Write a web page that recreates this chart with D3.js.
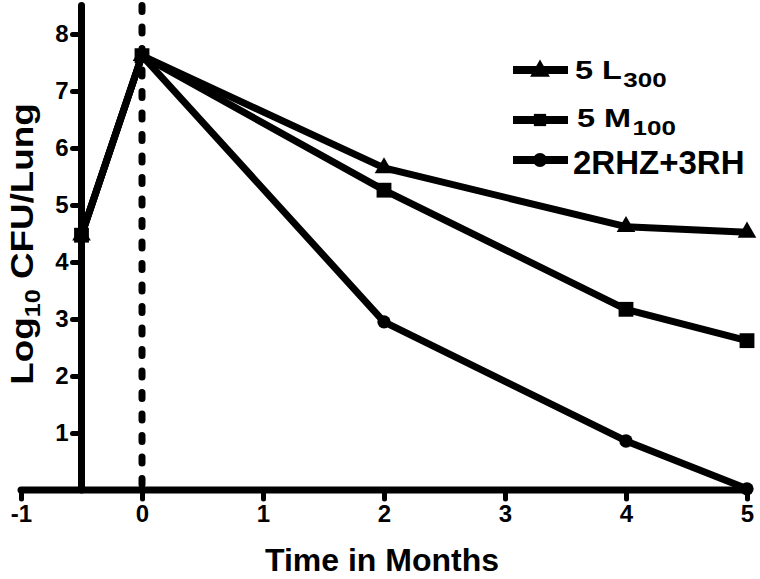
<!DOCTYPE html>
<html lang="en">
	<head>
		<meta charset="utf-8">
		<title>Log10 CFU/Lung over time</title>
		<script src="https://d3js.org/d3.v7.min.js"></script>
		<style type="text/css">
			body { margin: 0; background: #fff; }
			svg { display: block; }
			text {
				font-family: "Liberation Sans", Arial, sans-serif;
				font-weight: bold;
				fill: #000;
			}
		</style>
	</head>
	<body>
		<script type="text/javascript">

			//Data
			var months = [-0.5, 0, 2, 4, 5];
			var l300 = [4.47, 7.62, 5.65, 4.62, 4.52];
			var m100 = [4.47, 7.62, 5.26, 3.17, 2.62];
			var rhz = [4.47, 7.62, 2.95, 0.86, 0.02];
			var xTicks = [-1, 0, 1, 2, 3, 4, 5];
			var yTicks = [1, 2, 3, 4, 5, 6, 7, 8];

			var series = [
				{ name: "2RHZ+3RH", values: rhz, symbol: "circle" },
				{ name: "5 L", sub: "300", values: l300, symbol: "triangle" },
				{ name: "5 M", sub: "100", values: m100, symbol: "square" }
			];

			var w = 760;
			var h = 579;

			var x = d3.scaleLinear().domain([-1, 5]).range([21, 747]);
			var y = d3.scaleLinear().domain([0, 8.5]).range([490, 5.5]);

			//plain hyphen for negatives, like the original
			var fmt = function(d) { return String(d); };

			var svg = d3.select("body")
						.append("svg")
						.attr("width", w)
						.attr("height", h);

			//Dashed line at month 0
			svg.append("line")
				.attr("x1", x(0)).attr("x2", x(0))
				.attr("y1", y(8.5)).attr("y2", y(0))
				.attr("stroke", "#000")
				.attr("stroke-width", 7)
				.attr("stroke-linecap", "round")
				.attr("stroke-dasharray", "6,15.5");

			//X axis
			var xAxis = svg.append("g")
				.attr("transform", "translate(0," + y(0) + ")")
				.call(d3.axisBottom(x).tickValues(xTicks).tickSize(9).tickPadding(6).tickFormat(fmt));

			//Y axis crosses at month -0.5
			var yAxis = svg.append("g")
				.attr("transform", "translate(" + x(-0.5) + ",0)")
				.call(d3.axisLeft(y).tickValues(yTicks).tickSize(9).tickPadding(4).tickFormat(fmt));

			[xAxis, yAxis].forEach(function(a) {
				a.select(".domain").remove();
				a.selectAll(".tick line")
					.attr("stroke", "#000")
					.attr("stroke-width", 5)
					.attr("stroke-linecap", "round");
				a.selectAll(".tick text")
					.attr("font-size", 24)
					.attr("font-family", null);
			});

			svg.append("line")
				.attr("x1", x(-1)).attr("x2", x(5))
				.attr("y1", y(0)).attr("y2", y(0))
				.attr("stroke", "#000").attr("stroke-width", 7)
				.attr("stroke-linecap", "round");

			svg.append("line")
				.attr("x1", x(-0.5)).attr("x2", x(-0.5))
				.attr("y1", y(0)).attr("y2", y(8.5))
				.attr("stroke", "#000").attr("stroke-width", 7)
				.attr("stroke-linecap", "round");

			var line = d3.line()
				.x(function(d, i) { return x(months[i]); })
				.y(function(d) { return y(d); });

			var symbols = {
				circle: d3.symbol().type(d3.symbolCircle).size(140),
				triangle: d3.symbol().type(d3.symbolTriangle).size(150),
				square: d3.symbol().type(d3.symbolSquare).size(220)
			};

			series.forEach(function(s) {
				svg.append("path")
					.attr("d", line(s.values))
					.attr("fill", "none")
					.attr("stroke", "#000")
					.attr("stroke-width", 7)
					.attr("stroke-linejoin", "round");
			});

			series.forEach(function(s) {
				svg.selectAll(null)
					.data(s.values)
					.enter()
					.append("path")
					.attr("d", symbols[s.symbol])
					.attr("transform", function(d, i) {
						return "translate(" + x(months[i]) + "," + y(d) + ")";
					})
					.attr("fill", "#000");
			});

			//Legend
			var legendRows = [
				{ s: series[1], y: 70, tx: 575, ty: 79, size: 25, sx: 1.3 },
				{ s: series[2], y: 120, tx: 577, ty: 127, size: 25, sx: 1.3 },
				{ s: series[0], y: 160, tx: 573, ty: 174, size: 33, sx: 1 }
			];

			legendRows.forEach(function(r) {
				svg.append("line")
					.attr("x1", 513).attr("x2", 568)
					.attr("y1", r.y).attr("y2", r.y)
					.attr("stroke", "#000").attr("stroke-width", 8);
				svg.append("path")
					.attr("d", symbols[r.s.symbol].size(r.s.symbol === "triangle" ? 170 : 150)())
					.attr("transform", "translate(540," + (r.s.symbol === "triangle" ? r.y + 1 : r.y) + ")")
					.attr("fill", "#000");

				var t = svg.append("text")
					.attr("transform", "translate(" + r.tx + "," + r.ty + ") scale(" + r.sx + ",1)")
					.attr("font-size", r.size)
					.text(r.s.name);
				if (r.s.sub) {
					t.append("tspan")
						.attr("dx", 1)
						.attr("dy", 8)
						.attr("font-size", 20)
						.text(r.s.sub);
				}
			});

			//Axis titles
			svg.append("text")
				.attr("x", 382)
				.attr("y", 571)
				.attr("text-anchor", "middle")
				.attr("font-size", 32)
				.text("Time in Months");

			var yl = svg.append("text")
				.attr("transform", "translate(33,244) rotate(-90) scale(1.15,1)")
				.attr("text-anchor", "middle")
				.attr("font-size", 32)
				.text("Log");
			yl.append("tspan").attr("dy", 7).attr("font-size", 22).text("10");
			yl.append("tspan").attr("dy", -7).text(" CFU/Lung");

		</script>
	</body>
</html>
